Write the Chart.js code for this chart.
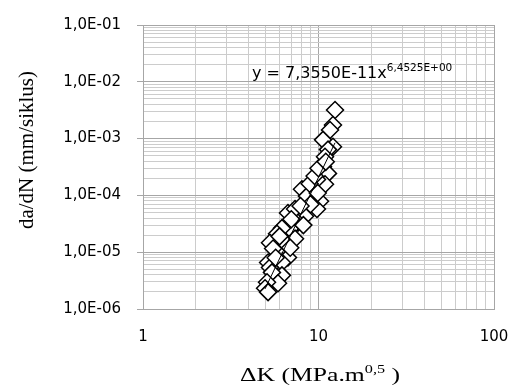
<!DOCTYPE html>
<html>
<head>
<meta charset="utf-8">
<script src="https://cdn.jsdelivr.net/npm/chart.js@4/dist/chart.umd.min.js"></script>
<style>
  html, body { margin: 0; padding: 0; background: #fff; }
  #chart { display: block; }
</style>
</head>
<body>
<canvas id="chart" width="515" height="386"></canvas>
<script>
// ΔK (MPa.m^0,5) and da/dN (mm/siklus)
const deltaK = [12.42, 12.09, 11.63, 10.61, 12.09, 11.33, 10.89, 10.61, 11.33, 10.89,
  9.80, 9.30, 8.05, 8.60, 10.20, 9.80, 8.38, 6.70, 7.35, 7.64,
  6.88, 6.19, 5.80, 7.35, 6.44, 5.29, 5.51, 6.70, 6.19, 5.16,
  5.29, 6.19, 5.43, 5.88, 5.09, 4.96, 5.16, 8.90, 9.50, 10.0,
  9.00, 7.90, 6.00, 6.90, 5.70, 8.20, 7.00, 11.0, 9.90];
const dadN = [3.18e-3, 1.74e-3, 1.42e-3, 9.5e-4, 7.2e-4, 6.4e-4, 4.8e-4, 3.2e-4, 2.44e-4, 1.57e-4,
  1.91e-4, 1.28e-4, 1.28e-4, 9.7e-5, 7.9e-5, 5.75e-5, 4.3e-5, 4.9e-5, 5.75e-5, 3.3e-5,
  2.58e-5, 2.65e-5, 2.11e-5, 1.73e-5, 1.47e-5, 1.47e-5, 1.16e-5, 8.05e-6, 6.59e-6, 6.59e-6,
  5.39e-6, 3.91e-6, 4.41e-6, 2.84e-6, 2.95e-6, 2.32e-6, 1.98e-6, 1.6e-4, 2.2e-4, 3.0e-4,
  7.0e-5, 6.5e-5, 1.9e-5, 1.2e-5, 8.0e-6, 3.0e-5, 3.8e-5, 3.9e-4, 1.1e-4];

// power trendline end points (y = 7,3550E-11 x^6,4525)
const trendK = [4.96, 12.42];
const trendDadN = [2.26e-6, 8.44e-4];

// axes
const xTicks = [1, 2, 3, 4, 5, 6, 7, 8, 9, 10, 20, 30, 40, 50, 60, 70, 80, 90, 100];
const xLabels = ['1', '10', '100'];
const xMajors = [1, 10, 100];
const yDecades = [1e-6, 1e-5, 1e-4, 1e-3, 1e-2, 1e-1];
const yLabels = ['1,0E-06', '1,0E-05', '1,0E-04', '1,0E-03', '1,0E-02', '1,0E-01'];
const ySteps = [1, 2, 3, 4, 5, 6, 7, 8, 9];

const yTitle = 'da/dN (mm/siklus)';
const xTitle = ['ΔK (MPa.m', '0,5', ' )'];
const equation = ['y = 7,3550E-11x', '6,4525E+00'];

const yTicks = [];
yDecades.slice(0, -1).forEach(d => ySteps.forEach(s => yTicks.push(s * d)));
yTicks.push(yDecades[yDecades.length - 1]);

const isDecade = v => Math.abs(Math.log10(v) - Math.round(Math.log10(v))) < 1e-6;
const MAJOR = '#a6a6a6';
const MINOR = '#cccccc';

const textPlugin = {
  id: 'texts',
  afterDraw(chart) {
    const ctx = chart.ctx;

    // y title
    ctx.save();
    ctx.fillStyle = '#000';
    ctx.translate(27, 150);
    ctx.rotate(-Math.PI / 2);
    ctx.font = '21px "Liberation Serif"';
    ctx.textAlign = 'center';
    ctx.textBaseline = 'middle';
    ctx.fillText(yTitle, 0, 0);
    ctx.restore();

    // x title, stretched like the source
    ctx.save();
    ctx.fillStyle = '#000';
    ctx.textBaseline = 'alphabetic';
    const sx = 1.35;
    const big = '19px "Liberation Serif"';
    const small = '12px "Liberation Serif"';
    ctx.font = big;
    const w1 = ctx.measureText(xTitle[0]).width;
    const w3 = ctx.measureText(xTitle[2]).width;
    ctx.font = small;
    const w2 = ctx.measureText(xTitle[1]).width;
    const total = (w1 + w2 + w3) * sx;
    ctx.translate(320 - total / 2, 381);
    ctx.scale(sx, 1);
    ctx.font = big;
    ctx.fillText(xTitle[0], 0, 0);
    ctx.font = small;
    ctx.fillText(xTitle[1], w1, -8);
    ctx.font = big;
    ctx.fillText(xTitle[2], w1 + w2, 0);
    ctx.restore();

    // trendline equation
    ctx.save();
    ctx.fillStyle = '#000';
    ctx.textBaseline = 'alphabetic';
    ctx.font = '16px "DejaVu Sans"';
    ctx.fillText(equation[0], 252, 78);
    const we = ctx.measureText(equation[0]).width;
    ctx.font = '10.5px "DejaVu Sans"';
    ctx.fillText(equation[1], 252 + we, 71);
    ctx.restore();
  }
};

new Chart(document.getElementById('chart'), {
  type: 'scatter',
  data: {
    datasets: [
      {
        label: 'trend',
        data: trendK.map((k, i) => ({ x: k, y: trendDadN[i] })),
        showLine: true,
        borderColor: '#000',
        borderWidth: 1,
        pointRadius: 0,
        order: 0
      },
      {
        label: 'data',
        data: deltaK.map((k, i) => ({ x: k, y: dadN[i] })),
        pointStyle: 'rectRot',
        pointRadius: 8.5,
        pointBorderWidth: 1.5,
        pointBorderColor: '#000',
        pointBackgroundColor: '#fff',
        order: 1
      }
    ]
  },
  options: {
    responsive: false,
    animation: false,
    layout: { padding: { top: 22, right: 21, left: 0, bottom: 0 } },
    plugins: {
      legend: { display: false },
      tooltip: { enabled: false }
    },
    scales: {
      x: {
        type: 'logarithmic',
        min: 1,
        max: 100,
        afterBuildTicks: s => { s.ticks = xTicks.map(v => ({ value: v, major: isDecade(v) })); },
        afterFit: s => { s.height = 77; },
        ticks: {
          autoSkip: false,
          maxRotation: 0,
          padding: 0,
          color: '#000',
          font: { family: 'DejaVu Sans', size: 15 },
          callback: v => {
            const i = xMajors.findIndex(m => Math.abs(v / m - 1) < 1e-6);
            return i >= 0 ? xLabels[i] : '';
          }
        },
        grid: {
          tickLength: 19,
          tickColor: 'rgba(0,0,0,0)',
          color: c => (isDecade(c.tick.value) ? MAJOR : MINOR),
          lineWidth: 1
        },
        border: { color: MAJOR }
      },
      y: {
        type: 'logarithmic',
        min: 1e-6,
        max: 1e-1,
        afterBuildTicks: s => { s.ticks = yTicks.map(v => ({ value: v, major: isDecade(v) })); },
        afterFit: s => { s.width = 143; },
        ticks: {
          autoSkip: false,
          padding: 16,
          color: '#000',
          font: { family: 'DejaVu Sans', size: 15 },
          callback: v => {
            const i = yDecades.findIndex(d => Math.abs(v / d - 1) < 1e-6);
            return i >= 0 ? yLabels[i] : '';
          }
        },
        grid: {
          tickLength: 6,
          color: c => (isDecade(c.tick.value) ? MAJOR : MINOR),
          tickColor: c => (isDecade(c.tick.value) ? MAJOR : 'rgba(0,0,0,0)'),
          lineWidth: 1
        },
        border: { color: MAJOR }
      }
    }
  },
  plugins: [textPlugin]
});
</script>
</body>
</html>
